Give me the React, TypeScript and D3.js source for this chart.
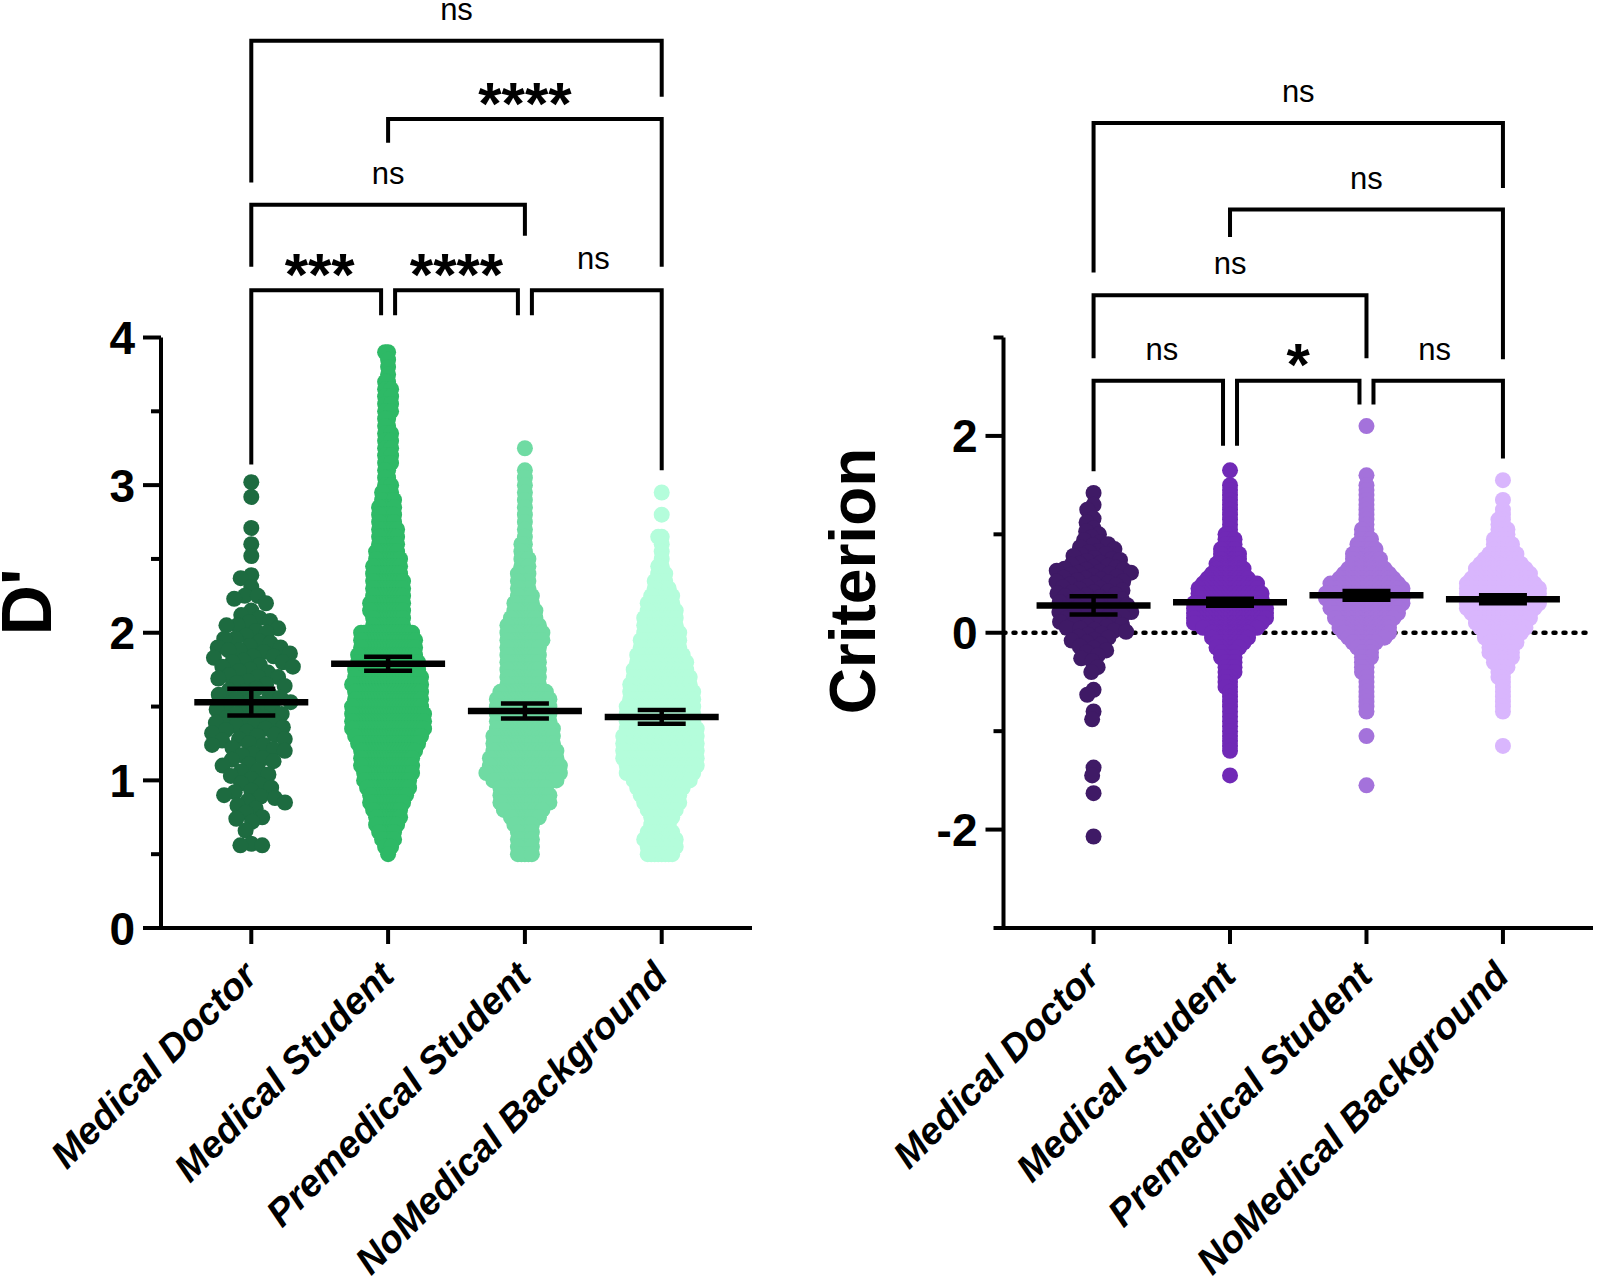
import React from 'react';
import * as d3 from 'd3';

const categories = ['Medical Doctor', 'Medical Student', 'Premedical Student', 'NoMedical Background'];

// D' : medical doctors, one value per participant
const mdDprime = [
  3.02, 2.92, 2.71, 2.6, 2.52,
  2.39, 2.37, 2.31,
  2.25, 2.25, 2.23, 2.2,
  2.15, 2.12, 2.1,
  2.08, 2.07, 2.05, 2.05, 2.03, 2.01, 2.0,
  1.98, 1.96, 1.96, 1.94, 1.93, 1.91, 1.9, 1.9,
  1.88, 1.88, 1.87, 1.86, 1.84, 1.84, 1.83, 1.81, 1.8, 1.8,
  1.78, 1.77, 1.77, 1.75, 1.74, 1.73, 1.71, 1.7, 1.7,
  1.69, 1.67, 1.66, 1.65, 1.64, 1.62, 1.61, 1.6,
  1.58, 1.58, 1.56, 1.55, 1.55, 1.53, 1.52, 1.51, 1.5,
  1.49, 1.48, 1.46, 1.45, 1.45, 1.43, 1.42, 1.41, 1.4,
  1.39, 1.38, 1.37, 1.36, 1.35, 1.34, 1.33, 1.32, 1.31, 1.3,
  1.28, 1.28, 1.27, 1.25, 1.24, 1.24, 1.22, 1.21, 1.2,
  1.18, 1.17, 1.15, 1.14, 1.13, 1.11, 1.1,
  1.07, 1.06, 1.04, 1.03, 1.01,
  0.98, 0.97, 0.95, 0.93, 0.92, 0.9,
  0.89, 0.88, 0.86, 0.85, 0.83, 0.81,
  0.78, 0.75, 0.74, 0.72,
  0.66,
  0.57, 0.56, 0.56,
];

// the larger groups are kept as counts per 0.05 bin
const BIN = 0.05;
const msDprimeFrom = 0.5;
const msDprimeCounts = [
  1, 3, 5, 6, 8, 9, 10, 12, 13, 15,
  16, 17, 18, 18, 19, 21, 23, 25, 25, 25,
  24, 23, 23, 24, 23, 22, 21, 20, 19, 19,
  18, 11, 11, 12, 12, 11, 11, 11, 10, 10,
  9, 8, 7, 7, 7, 6, 6, 6, 5, 4,
  3, 2, 2, 3, 3, 3, 3, 3, 2, 2,
  3, 3, 3, 3, 2, 1, 1, 1, 2,
];
const pmDprimeFrom = 0.5;
const pmDprimeCounts = [
  5, 5, 5, 5, 6, 9, 12, 15, 15, 14,
  19, 22, 21, 20, 19, 18, 18, 17, 16, 16,
  16, 16, 14, 10, 10, 10, 10, 10, 10, 11,
  11, 10, 8, 7, 6, 5, 4, 4, 4, 3,
  3, 2, 2, 1, 1, 1, 1, 1, 1, 1,
  1, 1, 1, 0, 0, 1,
];
const nmDprimeFrom = 0.5;
const nmDprimeCounts = [
  8, 9, 10, 8, 6, 7, 9, 11, 12, 14,
  17, 20, 21, 22, 22, 22, 22, 21, 20, 20,
  20, 19, 19, 18, 17, 16, 15, 14, 12, 12,
  11, 10, 10, 9, 8, 7, 5, 4, 3, 2,
  1, 1, 1, 2, 0, 0, 1, 0, 0, 1,
];
const dprimeMean = [1.53, 1.79, 1.47, 1.43];
const dprimeErr = [0.09, 0.047, 0.051, 0.047];

// Criterion : medical doctors, one value per participant
const mdCrit = [
  1.42, 1.3, 1.25, 1.16, 1.12,
  1.06, 1.03, 1.0,
  0.97, 0.94, 0.92, 0.9,
  0.89, 0.87, 0.85, 0.83, 0.82, 0.8,
  0.79, 0.78, 0.76, 0.75, 0.74, 0.73, 0.71, 0.7,
  0.69, 0.68, 0.67, 0.66, 0.65, 0.64, 0.64, 0.63, 0.62, 0.61, 0.61, 0.6,
  0.59, 0.58, 0.57, 0.56, 0.55, 0.54, 0.53, 0.52, 0.52, 0.51, 0.5,
  0.49, 0.48, 0.47, 0.46, 0.45, 0.44, 0.43, 0.42, 0.41, 0.41, 0.4,
  0.39, 0.38, 0.37, 0.36, 0.35, 0.34, 0.33, 0.32, 0.31, 0.31, 0.3,
  0.29, 0.28, 0.27, 0.26, 0.25, 0.24, 0.23, 0.22, 0.21, 0.21, 0.2,
  0.19, 0.18, 0.17, 0.16, 0.15, 0.14, 0.13, 0.12, 0.11, 0.1,
  0.09, 0.08, 0.07, 0.06, 0.05, 0.04, 0.03, 0.02, 0.01,
  -0.01, -0.02, -0.04, -0.05, -0.07, -0.08, -0.1,
  -0.12, -0.14, -0.16, -0.18, -0.2,
  -0.23, -0.26, -0.29,
  -0.35, -0.4,
  -0.58, -0.63, -0.8, -0.88,
  -1.37, -1.45, -1.63, -2.07,
];
const msCritFrom = -1.45;
const msCritCounts = [
  1, 0, 0, 0, 0, 1, 1, 1, 1, 1,
  1, 1, 1, 1, 1, 1, 1, 1, 2, 2,
  2, 3, 3, 3, 4, 4, 6, 7, 9, 9,
  13, 16, 17, 17, 17, 16, 15, 15, 14, 13,
  10, 8, 7, 6, 5, 5, 4, 3, 3, 2,
  1, 1, 1, 1, 1, 1, 1, 1, 1, 1,
  0, 0, 1,
];
const pmCritFrom = -1.55;
const pmCritCounts = [
  1, 0, 0, 0, 0, 0, 0, 0, 0, 0,
  1, 0, 0, 0, 0, 1, 1, 1, 1, 1,
  1, 1, 1, 2, 2, 2, 3, 3, 4, 6,
  9, 11, 12, 12, 14, 15, 16, 17, 18, 18,
  17, 16, 13, 11, 9, 7, 7, 6, 5, 4,
  3, 2, 2, 1, 1, 1, 1, 1, 1, 1,
  1, 1, 0, 1, 0, 0, 0, 0, 0, 0,
  0, 0, 0, 1,
];
const nmCritFrom = -1.15;
const nmCritCounts = [
  1, 0, 0, 0, 0, 0, 0,
  1, 1, 1, 1, 1, 1, 1, 2, 2, 3,
  4, 5, 6, 6, 7, 8, 9, 11, 12, 13,
  14, 16, 17, 17, 17, 17, 16, 14, 13, 12,
  10, 8, 7, 5, 5, 4, 3, 3, 2, 2,
  1, 1, 0, 1, 0, 0, 0, 1,
];
const critMean = [0.278, 0.31, 0.38, 0.34];
const critErr = [0.093, 0.035, 0.045, 0.04];

const greens = ['#1d6b40', '#2eb966', '#6fdba3', '#b4fddb'];
const purples = ['#3f1a66', '#7029b6', '#a472db', '#d9b6fd'];

// multiple comparisons: bracket height and where each leg stops, in data units
const dprimeTests = [
  { a: 0, b: 1, label: '***', at: 4.32, endA: 3.14, endB: 4.15 },
  { a: 1, b: 2, label: '****', at: 4.32, endA: 4.15, endB: 4.15 },
  { a: 2, b: 3, label: 'ns', at: 4.32, endA: 4.15, endB: 3.1 },
  { a: 0, b: 2, label: 'ns', at: 4.9, endA: 4.48, endB: 4.69 },
  { a: 1, b: 3, label: '****', at: 5.48, endA: 5.32, endB: 4.48 },
  { a: 0, b: 3, label: 'ns', at: 6.01, endA: 5.05, endB: 5.63 },
];
const critTests = [
  { a: 0, b: 1, label: 'ns', at: 2.56, endA: 1.64, endB: 1.9 },
  { a: 1, b: 2, label: '*', at: 2.56, endA: 1.9, endB: 2.32 },
  { a: 2, b: 3, label: 'ns', at: 2.56, endA: 2.32, endB: 1.77 },
  { a: 0, b: 2, label: 'ns', at: 3.43, endA: 2.79, endB: 2.79 },
  { a: 1, b: 3, label: 'ns', at: 4.3, endA: 4.02, endB: 2.78 },
  { a: 0, b: 3, label: 'ns', at: 5.18, endA: 3.66, endB: 4.52 },
];

const FONT = "'Liberation Sans', Arial, Helvetica, sans-serif";
const TOP = 337.5;
const BOTTOM = 928;
const R = 8;

const expand = (from: number, counts: number[]) =>
  counts.flatMap((c, i) => Array(c).fill(+(from + i * BIN).toFixed(2)));

// simple beeswarm: each point goes to the free spot nearest the centre line
function swarm(values: number[], y: (v: number) => number, d: number) {
  const pts = values.map(v => ({ y: y(v), x: 0 })).sort((p, q) => p.y - q.y);
  const placed: { x: number; y: number }[] = [];
  let start = 0;
  for (const p of pts) {
    while (start < placed.length && p.y - placed[start].y >= d) start++;
    const near = placed.slice(start);
    const cands = [0];
    near.forEach(q => {
      const dy = p.y - q.y;
      const dx = Math.sqrt(Math.max(0, d * d - dy * dy));
      cands.push(q.x + dx, q.x - dx);
    });
    cands.sort((a, b) => Math.abs(a) - Math.abs(b) || a - b);
    for (const c of cands) {
      if (near.every(q => (q.x - c) ** 2 + (q.y - p.y) ** 2 >= d * d - 0.01)) {
        p.x = c;
        break;
      }
    }
    placed.push(p);
  }
  return pts;
}

function Panel({ left, right, domain, major, minor, groups, colors, collide, mean, err, tests, zeroLine }: any) {
  const x = d3.scalePoint<number>().domain([0, 1, 2, 3]).range([left, right]).padding(0.66);
  const y = d3.scaleLinear().domain(domain).range([BOTTOM, TOP]);
  const swarms = groups.map((vals: number[], i: number) => swarm(vals, y, collide[i]));

  const legX = (t: any, end: 'a' | 'b') => {
    if (end === 'a') {
      const shared = tests.some((o: any) => o !== t && o.at === t.at && o.b === t.a);
      return x(t.a)! + (shared ? 7 : 0);
    }
    const shared = tests.some((o: any) => o !== t && o.at === t.at && o.a === t.b);
    return x(t.b)! - (shared ? 7 : 0);
  };

  return (
    <g>
      {zeroLine && (
        <line x1={left} x2={right} y1={y(0)} y2={y(0)} stroke="#000" strokeWidth={4.5}
          strokeDasharray="2 8" strokeLinecap="round" />
      )}

      {swarms.map((pts: any[], i: number) => (
        <g key={i} fill={colors[i]}>
          {pts.map((p, j) => (
            <circle key={j} cx={x(i)! + p.x} cy={p.y} r={R} />
          ))}
        </g>
      ))}

      {mean.map((m: number, i: number) => {
        const cx = x(i)!;
        return (
          <g key={i} stroke="#000">
            <line x1={cx} x2={cx} y1={y(m - err[i])} y2={y(m + err[i])} strokeWidth={4.5} />
            <line x1={cx - 24} x2={cx + 24} y1={y(m - err[i])} y2={y(m - err[i])} strokeWidth={4.5} />
            <line x1={cx - 24} x2={cx + 24} y1={y(m + err[i])} y2={y(m + err[i])} strokeWidth={4.5} />
            <line x1={cx - 57} x2={cx + 57} y1={y(m)} y2={y(m)} strokeWidth={6.5} />
          </g>
        );
      })}

      {/* axes */}
      <g stroke="#000" strokeWidth={4}>
        <line x1={left} x2={left} y1={TOP} y2={BOTTOM + 2} />
        <line x1={left - 2} x2={right} y1={BOTTOM} y2={BOTTOM} />
        {major.map((t: number) => (
          <line key={t} x1={left - 18} x2={left} y1={y(t)} y2={y(t)} />
        ))}
        {minor.map((t: number) => (
          <line key={t} x1={left - 10} x2={left} y1={y(t)} y2={y(t)} />
        ))}
        {categories.map((_, i) => (
          <line key={i} x1={x(i)} x2={x(i)} y1={BOTTOM} y2={BOTTOM + 16} />
        ))}
      </g>
      {major.map((t: number) => (
        <text key={t} x={left - 26} y={y(t)} dy="0.36em" textAnchor="end"
          fontFamily={FONT} fontWeight="bold" fontSize={46}>{t}</text>
      ))}
      {categories.map((c, i) => (
        <text key={c} transform={`translate(${x(i)! + 8},${978}) rotate(-45)`} textAnchor="end"
          fontFamily={FONT} fontWeight="bold" fontStyle="italic" fontSize={38}>{c}</text>
      ))}

      {/* comparison brackets */}
      {tests.map((t: any, k: number) => {
        const xa = legX(t, 'a');
        const xb = legX(t, 'b');
        const yl = y(t.at);
        const stars = t.label !== 'ns';
        return (
          <g key={k}>
            <path d={`M${xa},${y(t.endA)}V${yl}H${xb}V${y(t.endB)}`} fill="none" stroke="#000"
              strokeWidth={4} />
            <text x={(x(t.a)! + x(t.b)!) / 2} y={stars ? yl + 4.5 : yl - 21} textAnchor="middle"
              fontFamily={FONT} fontWeight={stars ? 'bold' : 'normal'} fontSize={stars ? 60 : 31}>
              {t.label}
            </text>
          </g>
        );
      })}
    </g>
  );
}

export default function App() {
  const dprimeGroups = [
    mdDprime,
    expand(msDprimeFrom, msDprimeCounts),
    expand(pmDprimeFrom, pmDprimeCounts),
    expand(nmDprimeFrom, nmDprimeCounts),
  ];
  const critGroups = [
    mdCrit,
    expand(msCritFrom, msCritCounts),
    expand(pmCritFrom, pmCritCounts),
    expand(nmCritFrom, nmCritCounts),
  ];

  return (
    <svg width={1599} height={1276} style={{ position: 'absolute', left: 0, top: 0, background: '#fff' }}>
      <rect width={1599} height={1276} fill="#fff" />
      <Panel left={161} right={752} domain={[0, 4]} major={[0, 1, 2, 3, 4]} minor={[0.5, 1.5, 2.5, 3.5]}
        groups={dprimeGroups} colors={greens} collide={[11, 3, 3.5, 3.5]}
        mean={dprimeMean} err={dprimeErr} tests={dprimeTests} zeroLine={false} />
      <Panel left={1003.5} right={1593} domain={[-3, 3]} major={[-2, 0, 2]} minor={[-3, -1, 1, 3]}
        groups={critGroups} colors={purples} collide={[8, 4.5, 4.5, 4.5]}
        mean={critMean} err={critErr} tests={critTests} zeroLine={true} />

      <text transform="translate(51,602) rotate(-90)" textAnchor="middle" fontFamily={FONT}
        fontWeight="bold" fontSize={70}>D'</text>
      <text transform="translate(875,581) rotate(-90)" textAnchor="middle" fontFamily={FONT}
        fontWeight="bold" fontSize={64}>Criterion</text>
    </svg>
  );
}
